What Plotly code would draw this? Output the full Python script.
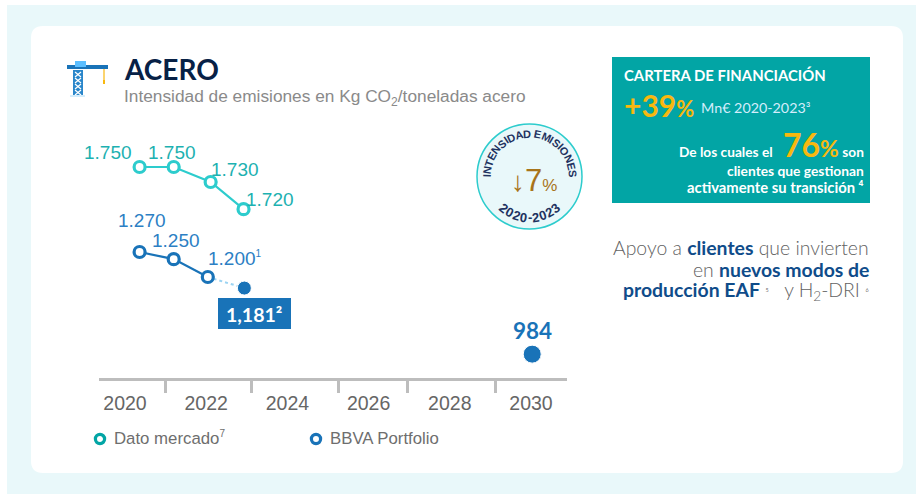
import math
import plotly.graph_objects as go

W, H = 916, 494

# ---- data (x positions as drawn, in axis years; market heights as drawn)
tick_years = [2020, 2022, 2024, 2026, 2028, 2030]
tick_labels = ["2020", "2022", "2024", "2026", "2028", "2030"]
separator_years = [2021.0, 2023.12, 2025.26, 2026.96, 2029.12]
market_x = [2020.36, 2021.2, 2022.11, 2022.92]
market_y = [1508, 1508, 1466, 1390]
market_labels = ["1.750", "1.750", "1.730", "1.720"]
bbva_x = [2020.36, 2021.2, 2022.04]
bbva_y = [1270, 1250, 1200]
bbva_labels = ["1.270", "1.250", "1.200<sup><span style='font-size:10px'>1</span></sup>"]
proj_x = [2022.04, 2022.94]
proj_y = [1200, 1169]
goal_x = [2022.94, 2030.03]
goal_y = [1169, 984]

TEAL = "#2DCCCD"
TEAL_D = "#02A5A5"
BLUE = "#1973B8"
NAVY = "#072146"
GOLD = "#F8B80F"
SANS = "Liberation Sans"
LATO = "Lato"

def px(x): return x / W
def py(y): return 1 - y / H

fig = go.Figure()
fig.add_trace(go.Scatter(x=proj_x, y=proj_y, mode="lines", showlegend=False, hoverinfo="skip",
                         line=dict(color="#9AD3F2", width=2, dash="dot")))
fig.add_trace(go.Scatter(x=market_x, y=market_y, mode="lines+markers", showlegend=False,
                         line=dict(color=TEAL, width=2.2),
                         marker=dict(size=11, color="white", line=dict(color=TEAL, width=3.2))))
fig.add_trace(go.Scatter(x=bbva_x, y=bbva_y, mode="lines+markers", showlegend=False,
                         line=dict(color=BLUE, width=2.2),
                         marker=dict(size=11, color="white", line=dict(color=BLUE, width=3.2))))
fig.add_trace(go.Scatter(x=goal_x, y=goal_y, mode="markers", showlegend=False,
                         marker=dict(size=[14, 18], color=BLUE, opacity=1)))

shapes = []
def rect(x0, y0, x1, y1, color, layer="below"):
    shapes.append(dict(type="rect", xref="paper", yref="paper", x0=px(x0), x1=px(x1), y0=py(y0), y1=py(y1),
                       fillcolor=color, line=dict(width=0), layer=layer))
def seg(x0, y0, x1, y1, color, w, layer="above"):
    shapes.append(dict(type="line", xref="paper", yref="paper", x0=px(x0), x1=px(x1), y0=py(y0), y1=py(y1),
                       line=dict(color=color, width=w), layer=layer))
def ring(cx, cy, r, color, w):
    shapes.append(dict(type="circle", xref="paper", yref="paper", x0=px(cx - r), x1=px(cx + r),
                       y0=py(cy + r), y1=py(cy - r), fillcolor="white", line=dict(color=color, width=w), layer="above"))

# page background + rounded card
rect(7, 5, 916, 494, "#E9F8FA")
def rounded(x0, y0, x1, y1, r):
    return (f"M{px(x0+r)},{py(y0)} L{px(x1-r)},{py(y0)} Q{px(x1)},{py(y0)} {px(x1)},{py(y0+r)} "
            f"L{px(x1)},{py(y1-r)} Q{px(x1)},{py(y1)} {px(x1-r)},{py(y1)} "
            f"L{px(x0+r)},{py(y1)} Q{px(x0)},{py(y1)} {px(x0)},{py(y1-r)} "
            f"L{px(x0)},{py(y0+r)} Q{px(x0)},{py(y0)} {px(x0+r)},{py(y0)} Z")
shapes.append(dict(type="path", xref="paper", yref="paper", path=rounded(31, 26, 903, 473, 12),
                   fillcolor="white", line=dict(width=0), layer="below"))
# financing box
rect(612, 57, 870, 203, TEAL_D)

# crane icon
rect(73, 70, 83, 95, "#2A86CA", "above")
for k in range(4):
    y = 72 + k * 6
    seg(75, y, 81, y + 5, "white", 1.2)
    seg(81, y, 75, y + 5, "white", 1.2)
rect(67, 65, 108, 69, "#1973B8", "above")
rect(75, 61, 86, 67, "#5BBEFF", "above")
seg(104, 69, 104, 80, "#F8B80F", 1.2)
seg(104, 80, 104, 84, "#F8B80F", 2)
rect(70, 95, 85, 97, "#D4EDFC", "above")

# badge
shapes.append(dict(type="circle", xref="paper", yref="paper", x0=px(477), x1=px(582), y0=py(124), y1=py(229),
                   fillcolor="#E9F8FA", line=dict(color="#2DCCCD", width=1.5), layer="below"))

# legend
ring(100, 439, 4.6, TEAL_D, 3.2)
ring(316, 439, 4.6, BLUE, 3.2)

ann = []
def text(x, y, s, size, color, family=LATO, xanchor="center", weight=None, angle=0):
    f = dict(family=family, size=size, color=color)
    if weight: f["weight"] = weight
    if xanchor == "left": x -= 2
    if xanchor == "right": x += 2
    ann.append(dict(xref="paper", yref="paper", x=px(x), y=py(y), text=s, showarrow=False, font=f,
                    xanchor=xanchor, yanchor="middle", textangle=angle, align="center"))

def data_label(xv, yv, s, color, dx, dy):
    ann.append(dict(xref="x", yref="y", x=xv, y=yv, text=s, showarrow=False, xshift=dx, yshift=dy,
                    font=dict(family=SANS, size=19, color=color), xanchor="center", yanchor="middle"))

for xv, yv, s, (dx, dy) in zip(market_x, market_y, market_labels, [(-32, 15), (-2, 15), (24, 13), (26, 10)]):
    data_label(xv, yv, s, "#1DB1B1", dx, dy)
for xv, yv, s, (dx, dy) in zip(bbva_x, bbva_y, bbva_labels, [(2, 32), (2, 19), (27, 19)]):
    data_label(xv, yv, s, "#2C7FC4", dx, dy)

# goal labels
rect(218, 298, 291, 329, BLUE)
text(254, 314, "<b>1,181²</b>", 19.5, "white")
ann.append(dict(xref="x", yref="y", x=goal_x[1], y=goal_y[1], text="<b>984</b>", showarrow=False, yshift=24,
                font=dict(family=LATO, size=22.5, color=BLUE), xanchor="center", yanchor="middle"))

# legend text
text(114, 438, "Dato mercado<sup><span style='font-size:10px'>7</span></sup>", 16.8, "#6E6E6E", SANS, xanchor="left")
text(330, 438, "BBVA Portfolio", 16.8, "#6E6E6E", SANS, xanchor="left")

# titles
text(124, 69, "<b>ACERO</b>", 28, NAVY, xanchor="left")
text(124, 98, "Intensidad de emisiones en Kg CO<sub>2</sub>/toneladas acero", 17.3, "#8A8A8A", SANS, xanchor="left")

# financing box text
text(624, 75, "<b>CARTERA DE FINANCIACIÓN</b>", 14.9, "white", xanchor="left")
text(624, 105, "<b>+39</b><span style='font-size:22px'><b>%</b></span>", 30, GOLD, xanchor="left")
text(701, 107, "Mn€ 2020-2023³", 14.3, "#D4EDFC", xanchor="left")
text(864, 145, "<b>De los cuales el </b>&nbsp;&nbsp;<span style='font-size:32px;color:#F8B80F'><b>76</b></span>"
     "<span style='font-size:23px;color:#F8B80F'><b>%</b></span><b> son</b>", 13.7, "white", xanchor="right")
text(864, 170, "<b>clientes que gestionan</b>", 13.8, "white", xanchor="right")
text(864, 187, "<b>activamente su transición ⁴</b>", 14.8, "white", xanchor="right")

# right text
G = "#626262"
text(869, 248, "Apoyo a <b style='color:#0F4C8A'>clientes</b> que invierten", 19.4, G, xanchor="right", weight=300)
text(869, 269, "en <b style='color:#0F4C8A'>nuevos modos de</b>", 19.4, G, xanchor="right", weight=300)
text(869, 291, "<b style='color:#0F4C8A'>producción EAF</b> <span style='font-size:11px'>⁵</span>   y H<sub>2</sub>-DRI <span style='font-size:11px'>⁶</span>",
     19.4, G, xanchor="right", weight=300)

# badge text, set along arcs using approximate bold glyph widths
cx, cy = 529.5, 176.5
widths = {"I": .28, " ": .28, "M": .83, "N": .72, "T": .61, "E": .67, "S": .67, "D": .72, "A": .72, "O": .78, "-": .33}
def arc(word, R, size, span, top_side):
    w = [widths.get(c, .556) for c in word]
    total = sum(w)
    run = 0
    for c, wc in zip(word, w):
        t = span * ((run + wc / 2) / total - .5)
        run += wc
        if c == " ":
            continue
        rad = math.radians(t)
        if top_side:
            text(cx + R * math.sin(rad), cy - R * math.cos(rad), f"<b>{c}</b>", size, "#1E3260", SANS, angle=t)
        else:
            text(cx + R * math.sin(rad), cy + R * math.cos(rad), f"<b>{c}</b>", size, "#1E3260", SANS, angle=-t)
arc("INTENSIDAD EMISIONES", 43, 11, 182, True)
arc("2020-2023", 41, 13, 88, False)
text(534, 180, "<span style='font-size:28px'><b>↓</b></span>7<span style='font-size:17px'>%</span>", 31, "#A8741A", SANS)

fig.update_layout(
    width=W, height=H, autosize=False,
    margin=dict(l=0, r=0, t=0, b=0),
    paper_bgcolor="white", plot_bgcolor="rgba(0,0,0,0)",
    shapes=shapes, annotations=ann, hovermode=False, showlegend=False,
    xaxis=dict(domain=[px(99), px(567)], range=[2019.36, 2030.887], showgrid=False, zeroline=False,
               showline=True, linecolor="#BDBDBD", linewidth=2.5,
               tickmode="array", tickvals=tick_years, ticktext=tick_labels, ticks="",
               tickfont=dict(family=SANS, size=19.5, color="#666666"), ticklabelstandoff=6,
               minor=dict(tickmode="array", tickvals=separator_years, ticks="outside", ticklen=12,
                          tickwidth=3, tickcolor="#BDBDBD")),
    yaxis=dict(domain=[py(378), py(120)], range=[1270 - (378 - 252) * 2.8, 1270 + (252 - 120) * 2.8], visible=False),
)

fig.write_html("out.html", config=dict(displayModeBar=False),
               post_script="document.body.style.margin='0';document.body.style.overflow='hidden';")
